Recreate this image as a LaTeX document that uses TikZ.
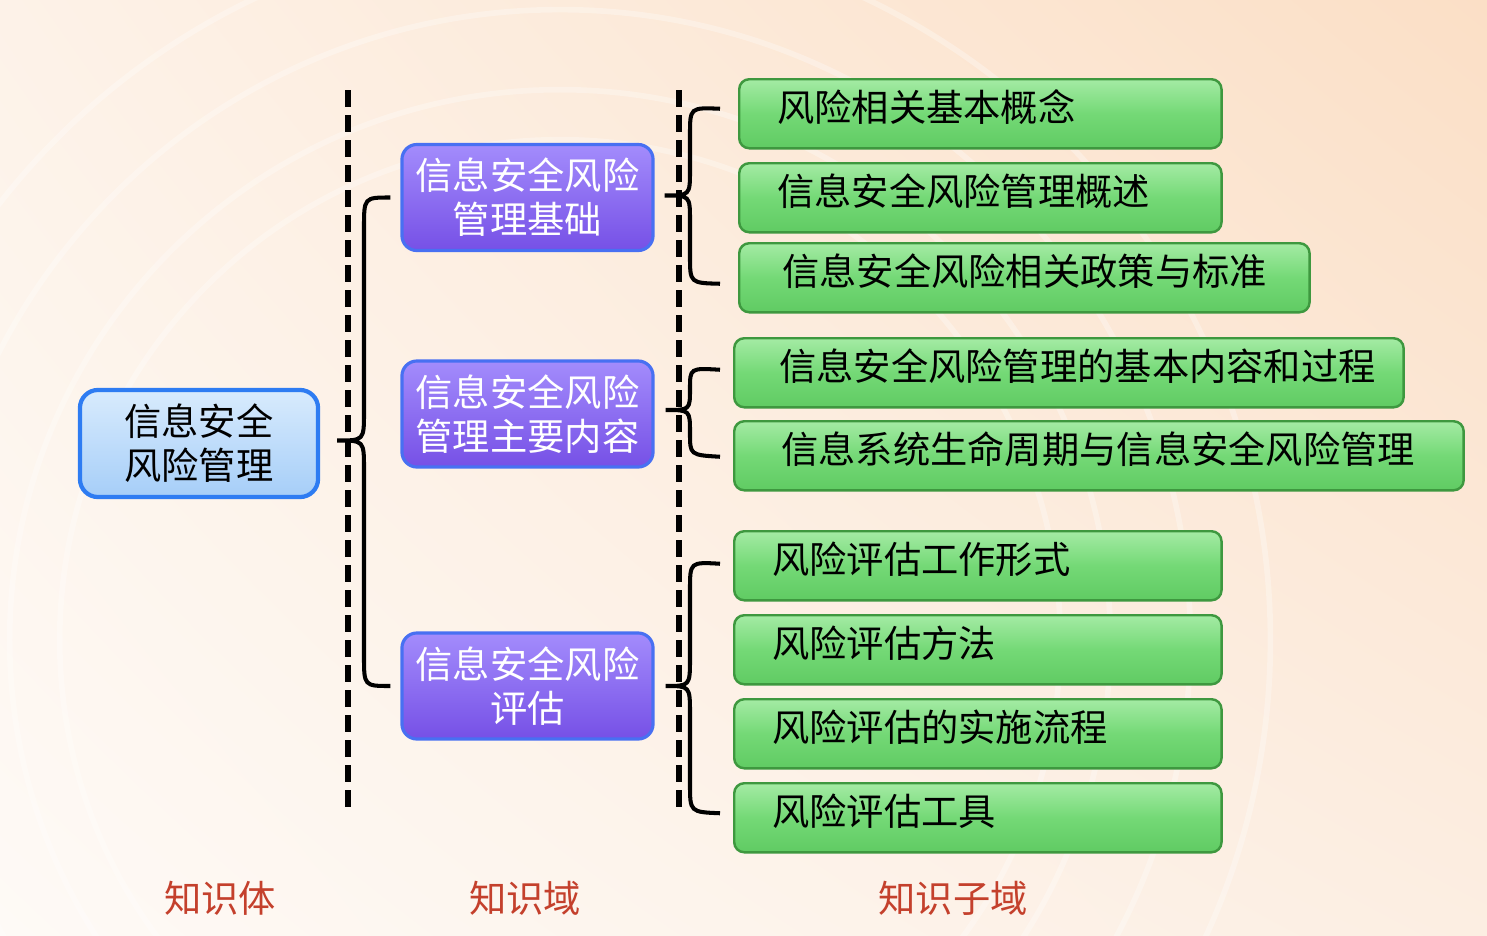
\documentclass[tikz,border=0pt]{standalone}
\usepackage{fontspec}
\newfontfamily\cjk{Noto Sans CJK SC}
\usetikzlibrary{calc,shadings}
\definecolor{bgUL}{HTML}{FDF2E8}
\definecolor{bgUR}{HTML}{FBDFC6}
\definecolor{bgLL}{HTML}{FEFAF6}
\definecolor{bgLR}{HTML}{FCEEE2}
\definecolor{lbTop}{HTML}{D8EBFD}
\definecolor{lbBot}{HTML}{A6CEF8}
\definecolor{lbDraw}{HTML}{2E7CF2}
\definecolor{pTop}{HTML}{A38CFC}
\definecolor{pBot}{HTML}{7650E6}
\definecolor{pDraw}{HTML}{4870F2}
\definecolor{gTop}{HTML}{A4EBA4}
\definecolor{gMid}{HTML}{74D976}
\definecolor{gBot}{HTML}{60CB63}
\definecolor{gDraw}{HTML}{3E983F}
\definecolor{labRed}{HTML}{C4402C}
\begin{document}
\begin{tikzpicture}[x=0.01cm,y=-0.01cm,
  basefont/.style={font=\cjk\fontsize{10.6pt}{12.5pt}\selectfont},
  lbox/.style={basefont, draw=lbDraw, line width=1.2pt, rounded corners=0.18cm,
    top color=lbTop, bottom color=lbBot, minimum width=2.38cm, minimum height=1.07cm,
    align=center, text=black, inner sep=0pt},
  pbox/.style={basefont, draw=pDraw, line width=0.9pt, rounded corners=0.15cm,
    top color=pTop, bottom color=pBot, minimum width=2.51cm, minimum height=1.06cm,
    align=center, text=white, inner sep=0pt},
  gbox/.style={basefont, draw=gDraw, line width=0.7pt, rounded corners=0.1cm,
    top color=gTop, bottom color=gBot, middle color=gMid, anchor=north west,
    minimum height=0.69cm, inner xsep=0.38cm, inner ysep=0pt, align=left, text=black,
    text height=0.85em, text depth=0.4em},
  lab/.style={basefont, text=labRed},
  divider/.style={line width=1.45pt, black, dash pattern=on 0.17cm off 0.08cm},
  brace/.style={line width=1.15pt, black}
]
\useasboundingbox (0,0) rectangle (1487,936);
\shade[upper left=bgUL, upper right=bgUR, lower left=bgLL, lower right=bgLR] (0,0) rectangle (1487,936);
\begin{scope}
  \clip (0,0) rectangle (1487,936);
  \foreach \r in {5.0,5.5,6.3,7.1}
    \draw[white, opacity=0.3, line width=1.6pt] (560,640) circle[radius=\r cm];
\end{scope}

% dividers
\coordinate (d1a) at (348,90);
\coordinate (d1b) at (348,810);
\coordinate (d2a) at (679,90);
\coordinate (d2b) at (679,810);
\draw[divider] (d1a) -- (d1b);
\draw[divider] (d2a) -- (d2b);

% nodes
\node[lbox] (L) at (199,443.5) {信息安全\\风险管理};

\node[pbox] (P1) at (527.5,197.5) {信息安全风险\\管理基础};
\node[pbox] (P2) at (527.5,414) {信息安全风险\\管理主要内容};
\node[pbox] (P3) at (527.5,686) {信息安全风险\\评估};

\node[gbox, text width=4.06cm] (G1) at (738,78) {风险相关基本概念};
\node[gbox, text width=4.06cm] (G2) at (738,162) {信息安全风险管理概述};
\node[gbox, inner xsep=0.43cm, text width=4.84cm] (G3) at (738,242) {信息安全风险相关政策与标准};
\node[gbox, inner xsep=0.45cm, text width=5.79cm] (G4) at (733,337) {信息安全风险管理的基本内容和过程};
\node[gbox, inner xsep=0.47cm, text width=6.35cm] (G5) at (733,420) {信息系统生命周期与信息安全风险管理};
\node[gbox, text width=4.11cm] (G6) at (733,530) {风险评估工作形式};
\node[gbox, text width=4.11cm] (G7) at (733,614) {风险评估方法};
\node[gbox, text width=4.11cm] (G8) at (733,698) {风险评估的实施流程};
\node[gbox, text width=4.11cm] (G9) at (733,782) {风险评估工具};

% braces
\coordinate (B0t) at ($(P1.west)+(-10,0)$);
\coordinate (B0b) at ($(P3.west)+(-10,0)$);
\coordinate (B0tip) at ($(L.east)+(17,-3)$);
\draw[brace] (B0t) .. controls (364,197.5) .. (364,228) -- (364,412)
  .. controls (364,440.5) .. (B0tip) .. controls (364,440.5) .. (364,469)
  -- (364,656) .. controls (364,686) .. (B0b);

\coordinate (B1t) at ($(G1.west)+(-18,-5)$);
\coordinate (B1b) at ($(G3.west)+(-18,6)$);
\coordinate (B1tip) at ($(P1.east)+(10,-2)$);
\draw[brace] (B1t) .. controls (690,107.5) .. (690,135) -- (690,170)
  .. controls (690,195.5) .. (B1tip) .. controls (690,195.5) .. (690,221)
  -- (690,256) .. controls (690,283) .. (B1b);

\coordinate (B2t) at ($(G4.west)+(-13,-3)$);
\coordinate (B2b) at ($(G5.west)+(-13,1)$);
\coordinate (B2tip) at ($(P2.east)+(11,-4)$);
\draw[brace] (B2t) .. controls (690,368) .. (690,389)
  .. controls (690,410) .. (B2tip) .. controls (690,410) .. (690,433)
  .. controls (690,455) .. (B2b);

\coordinate (B3t) at ($(G6.west)+(-13,-2)$);
\coordinate (B3b) at ($(G9.west)+(-13,-4.5)$);
\coordinate (B3tip) at ($(P3.east)+(11,0)$);
\draw[brace] (B3t) .. controls (690,562) .. (690,590) -- (690,658)
  .. controls (690,686) .. (B3tip) .. controls (690,686) .. (690,714)
  -- (690,784) .. controls (690,812) .. (B3b);

% bottom labels
\node[lab] (T1) at (220,898) {知识体};
\node[lab] (T2) at (525,898) {知识域};
\node[lab] (T3) at (953,898) {知识子域};
\end{tikzpicture}
\end{document}
